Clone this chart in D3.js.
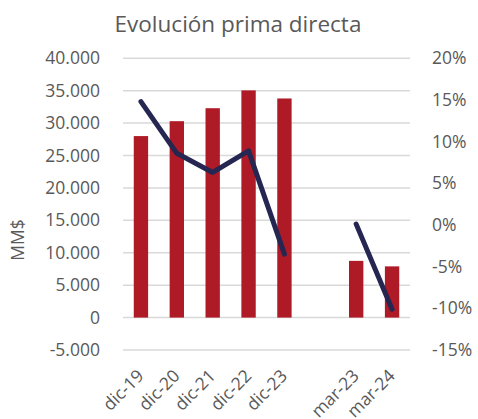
<!DOCTYPE html>
<html>
<head>
<meta charset="utf-8">
<script src="https://cdn.jsdelivr.net/npm/d3@7"></script>
<style>
  body { margin: 0; background: #fff; }
  text { font-family: "Open Sans", "Noto Sans", sans-serif; fill: #595959; }
</style>
</head>
<body>
<div id="chart"></div>
<script>
// chart data
var categories = ["dic-19", "dic-20", "dic-21", "dic-22", "dic-23", "", "mar-23", "mar-24"];
var primaValues = [28000, 30300, 32300, 35050, 33800, null, 8750, 7900];
var growthValues = [0.148, 0.086, 0.063, 0.089, -0.035, null, 0.001, -0.101];
var leftTicks = [-5000, 0, 5000, 10000, 15000, 20000, 25000, 30000, 35000, 40000];
var rightTicks = [-0.15, -0.10, -0.05, 0, 0.05, 0.10, 0.15, 0.20];

var svgWidth = 478, svgHeight = 419;
var plot = { left: 123, right: 410, top: 58.3, bottom: 350 };
var tickFont = 17.5;

var svg = d3.select("#chart").append("svg")
    .attr("width", svgWidth).attr("height", svgHeight);

// scales
var xScale = d3.scaleBand()
    .domain(d3.range(categories.length))
    .range([plot.left, plot.right])
    .paddingInner(0.6).paddingOuter(0.3);

var yLeft = d3.scaleLinear()
    .domain([-5000, 40000])
    .range([plot.bottom, plot.top]);

var yRight = d3.scaleLinear()
    .domain([-0.15, 0.20])
    .range([plot.bottom, plot.top]);

var fmtThousands = d3.formatLocale({ decimal: ",", thousands: ".", grouping: [3], currency: ["", "$"], minus: "-" }).format(",");

// gridlines
svg.append("g").selectAll("line").data(leftTicks).enter()
    .append("line")
    .attr("x1", plot.left).attr("x2", plot.right)
    .attr("y1", d => yLeft(d)).attr("y2", d => yLeft(d))
    .attr("stroke", "#d9d9d9").attr("stroke-width", 1.5);

// left axis
var leftAxis = d3.axisLeft(yLeft).tickValues(leftTicks)
    .tickFormat(d => fmtThousands(d)).tickSize(0).tickPadding(0);
svg.append("g").attr("transform", `translate(100,0)`)
    .call(leftAxis)
    .call(g => g.select(".domain").remove())
    .selectAll("text").attr("font-size", tickFont).attr("fill", "#595959")
    .attr("font-family", "'Open Sans', sans-serif");

// right axis
var rightAxis = d3.axisRight(yRight).tickValues(rightTicks)
    .tickFormat(d3.format(".0%")).tickSize(0).tickPadding(0);
svg.append("g").attr("transform", `translate(432,0)`)
    .call(rightAxis)
    .call(g => g.select(".domain").remove())
    .selectAll("text").attr("font-size", tickFont).attr("fill", "#595959")
    .attr("font-family", "'Open Sans', sans-serif")
    .text(d => d3.format(".0%")(d).replace("−", "-"));

// bars
svg.append("g").selectAll("rect")
    .data(primaValues.map((v, i) => ({ v: v, i: i })).filter(d => d.v !== null))
    .enter().append("rect")
    .attr("x", d => xScale(d.i))
    .attr("width", xScale.bandwidth())
    .attr("y", d => yLeft(d.v))
    .attr("height", d => yLeft(0) - yLeft(d.v))
    .attr("fill", "#ae1a25");

// line, broken at the empty category
var line = d3.line()
    .defined(d => d.v !== null)
    .x(d => xScale(d.i) + xScale.bandwidth() / 2)
    .y(d => yRight(d.v));

svg.append("path")
    .datum(growthValues.map((v, i) => ({ v: v, i: i })))
    .attr("d", line)
    .attr("fill", "none")
    .attr("stroke", "#262652")
    .attr("stroke-width", 5)
    .attr("stroke-linecap", "round")
    .attr("stroke-linejoin", "round");

// x labels
svg.append("g").selectAll("text")
    .data(categories).enter()
    .append("text")
    .attr("transform", (d, i) => `translate(${xScale(i) + xScale.bandwidth() / 2 + 4},${plot.bottom + 27}) rotate(-45)`)
    .attr("text-anchor", "end")
    .attr("font-size", tickFont)
    .text(d => d);

// title
svg.append("text")
    .attr("x", 238).attr("y", 32)
    .attr("text-anchor", "middle")
    .attr("font-size", 22.5)
    .attr("fill", "#404040")
    .text("Evolución prima directa");

// y axis label
svg.append("text")
    .attr("transform", "translate(24,240) rotate(-90)")
    .attr("text-anchor", "middle")
    .attr("font-size", tickFont)
    .text("MM$");
</script>
</body>
</html>
